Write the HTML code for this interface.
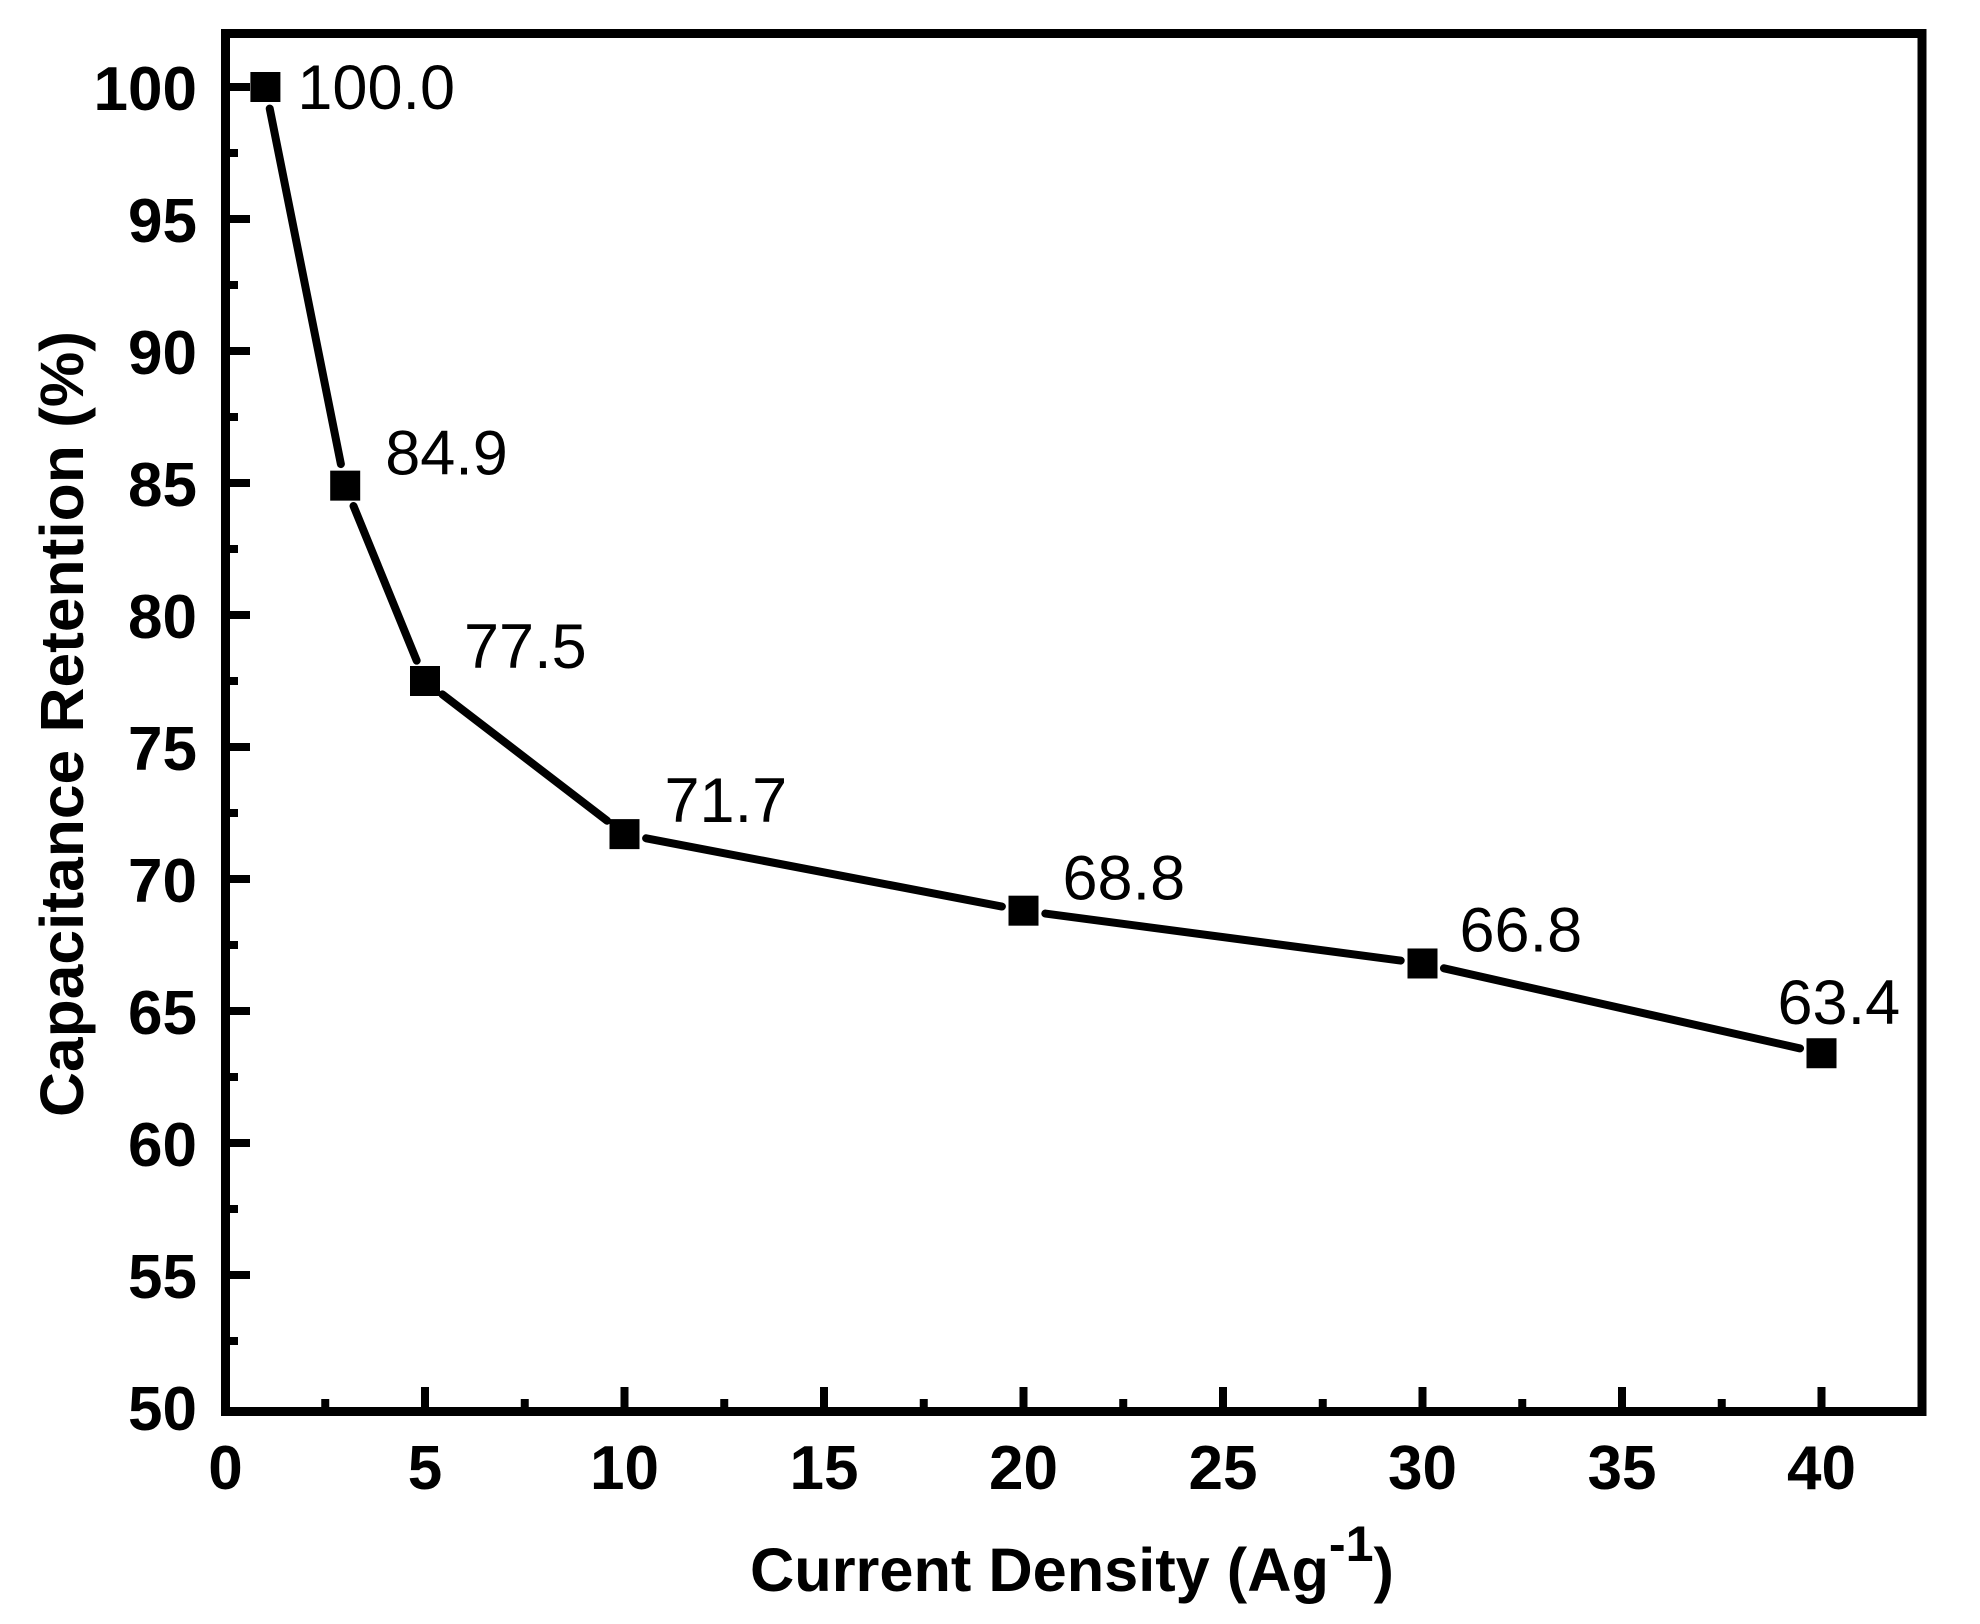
<!DOCTYPE html>
<html><head><meta charset="utf-8"><style>
html,body{margin:0;padding:0;background:#fff;}
svg{display:block;font-family:"Liberation Sans",Arial,sans-serif;}
</style></head><body>
<svg id="chart" width="1980" height="1624" viewBox="0 0 1980 1624" xmlns="http://www.w3.org/2000/svg">
<rect x="0" y="0" width="1980" height="1624" fill="#fff"/>
<g id="marks"></g>
<rect x="225.5" y="33.5" width="1696.5" height="1378" fill="none" stroke="#000" stroke-width="9"/>
<g id="ticks"></g>
<text x="750" y="1591" font-size="61" font-weight="bold" textLength="644" lengthAdjust="spacingAndGlyphs">Current Density (Ag<tspan dy="-30" font-size="50">-1</tspan><tspan dy="30">)</tspan></text>
<text transform="translate(83,724) rotate(-90)" text-anchor="middle" font-size="61" font-weight="bold" textLength="786" lengthAdjust="spacingAndGlyphs">Capacitance Retention (%)</text>
</svg>
<script>
const xValues = [1, 3, 5, 10, 20, 30, 40];
const retention = [100.0, 84.9, 77.5, 71.7, 68.8, 66.8, 63.4];
const pointLabels = ["100.0", "84.9", "77.5", "71.7", "68.8", "66.8", "63.4"];
const xTickLabels = ["0", "5", "10", "15", "20", "25", "30", "35", "40"];
const yTickLabels = ["50", "55", "60", "65", "70", "75", "80", "85", "90", "95", "100"];

const NS = "http://www.w3.org/2000/svg";
const X0 = 225.5, XPER = 39.9;
const Y100 = 87, YPER = 26.4;
const BOTTOM = 1407, LEFT = 230;
function xs(v){ return X0 + v * XPER; }
function ys(v){ return Y100 + (100 - v) * YPER; }
function mk(tag, attrs){ const e = document.createElementNS(NS, tag); for (const k in attrs) e.setAttribute(k, attrs[k]); return e; }

const marks = document.getElementById("marks");
const ticks = document.getElementById("ticks");

const lblDx = [32, 40, 39, 40, 39, 37, -44];
const lblDy = [22, -11, -13, -12, -11, -12, -29];

const GAP = 22;
for (let i = 0; i < xValues.length - 1; i++) {
  const x1 = xs(xValues[i]), y1 = ys(retention[i]);
  const x2 = xs(xValues[i+1]), y2 = ys(retention[i+1]);
  const d = Math.hypot(x2 - x1, y2 - y1);
  const ux = (x2 - x1) / d, uy = (y2 - y1) / d;
  const seg = mk("line", {x1: x1 + ux*GAP, y1: y1 + uy*GAP, x2: x2 - ux*GAP, y2: y2 - uy*GAP, stroke: "#000", "stroke-width": 8, "stroke-linecap": "round"});
  
  
  marks.appendChild(seg);
}
for (let i = 0; i < xValues.length; i++) {
  const cx = xs(xValues[i]), cy = ys(retention[i]);
  const sq = mk("rect", {x: cx - 15, y: cy - 15, width: 30, height: 30, fill: "#000"});
  
  
  marks.appendChild(sq);
  const t = mk("text", {x: cx + lblDx[i], y: cy + lblDy[i], "font-size": 63});
  t.textContent = pointLabels[i];
  
  
  marks.appendChild(t);
}
for (let i = 0; i < xTickLabels.length; i++) {
  const v = parseFloat(xTickLabels[i]);
  const x = xs(v);
  if (i > 0) {
    const tk = mk("line", {x1: x, y1: BOTTOM, x2: x, y2: BOTTOM - 20, stroke: "#000", "stroke-width": 8});
    
    
    ticks.appendChild(tk);
  }
  if (i < xTickLabels.length - 1) {
    const xm = xs(v + 2.5);
    const mt = mk("line", {x1: xm, y1: BOTTOM, x2: xm, y2: BOTTOM - 8, stroke: "#000", "stroke-width": 8});
    
    
    ticks.appendChild(mt);
  }
  const lb = mk("text", {x: x, y: 1489, "font-size": 62, "font-weight": "bold", "text-anchor": "middle"});
  lb.textContent = xTickLabels[i];
  
  
  ticks.appendChild(lb);
}
for (let i = 0; i < yTickLabels.length; i++) {
  const v = parseFloat(yTickLabels[i]);
  const y = ys(v);
  if (i > 0) {
    const tk = mk("line", {x1: LEFT, y1: y, x2: LEFT + 20, y2: y, stroke: "#000", "stroke-width": 8});
    
    
    ticks.appendChild(tk);
  }
  if (i < yTickLabels.length - 1) {
    const ym = ys(v + 2.5);
    const mt = mk("line", {x1: LEFT, y1: ym, x2: LEFT + 8, y2: ym, stroke: "#000", "stroke-width": 8});
    
    
    ticks.appendChild(mt);
  }
  const lb = mk("text", {x: 197, y: y + 23, "font-size": 62, "font-weight": "bold", "text-anchor": "end"});
  lb.textContent = yTickLabels[i];
  
  
  ticks.appendChild(lb);
}
</script>
</body></html>
